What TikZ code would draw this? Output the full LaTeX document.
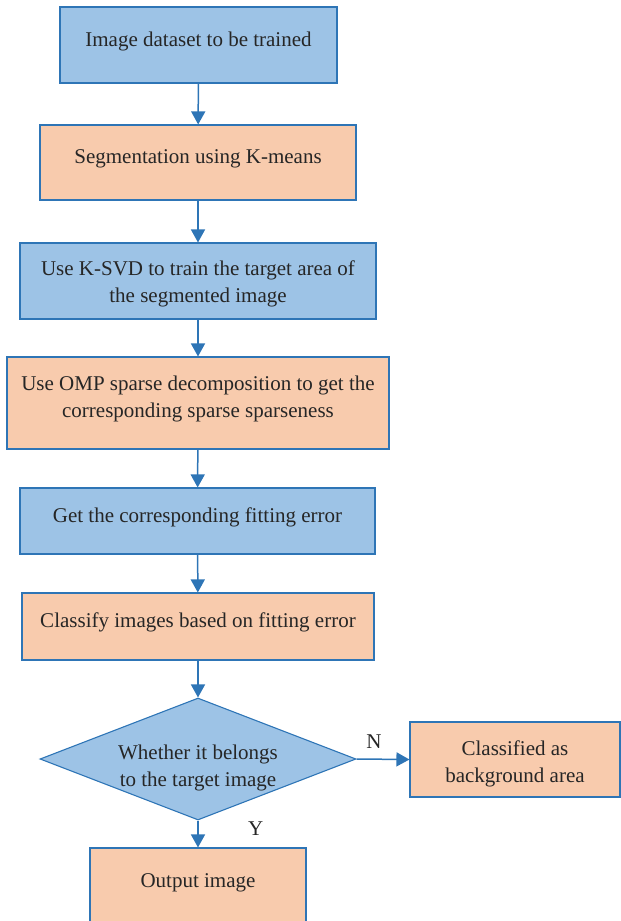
\documentclass[tikz,border=0pt]{standalone}
\usepackage{fontspec}
\setmainfont{Liberation Serif}
\usetikzlibrary{shapes.geometric, arrows.meta}
\definecolor{boxblue}{HTML}{9DC3E6}
\definecolor{boxorange}{HTML}{F8CBAD}
\definecolor{edgeblue}{HTML}{2E75B6}

\begin{document}
\begin{tikzpicture}[x=1pt, y=-1pt,
    >={Triangle[width=14pt, length=13pt]},
    every node/.style={font=\fontsize{21}{27}\selectfont, text=black!85, align=center},
    bluebox/.style={draw=edgeblue, line width=1.1pt, fill=boxblue, inner sep=0pt},
    orangebox/.style={draw=edgeblue, line width=1.1pt, fill=boxorange, inner sep=0pt},
    flow/.style={->, draw=edgeblue, line width=1.5pt}]
    \useasboundingbox (0, 0) rectangle (621, 921);
    \node[bluebox, minimum width=277pt, minimum height=76pt, text depth=12pt] (data) at (198.5, 45) {Image dataset to be trained};
    \node[orangebox, minimum width=316pt, minimum height=75pt, text depth=12pt] (kmeans) at (198, 162.5) {Segmentation using K-means};
    \node[bluebox, minimum width=356pt, minimum height=76pt, text height=47.3pt] (ksvd) at (198, 281) {Use K-SVD to train the target area of\\the segmented image};
    \node[orangebox, minimum width=382pt, minimum height=92pt, text depth=12.5pt] (omp) at (198, 403) {Use OMP sparse decomposition to get the\\corresponding sparse sparseness};
    \node[bluebox, minimum width=355pt, minimum height=66pt, text depth=12pt] (fit) at (197.5, 521) {Get the corresponding fitting error};
    \node[orangebox, minimum width=352pt, minimum height=67pt, text depth=12pt] (classify) at (198, 626.5) {Classify images based on fitting error};
    \node[bluebox, diamond, minimum width=316pt, minimum height=122pt] (check) at (198, 759) {};
    \node (checktext) at ([yshift=-9pt]check.center) {Whether it belongs\\to the target image};
    \node[orangebox, minimum width=210pt, minimum height=75pt, text height=51.3pt] (back) at (515, 759.5) {Classified as\\background area};
    \node[orangebox, minimum width=216pt, minimum height=78pt, text depth=12pt] (out) at (198, 887) {Output image};

    \draw[flow] (data) -- (kmeans);
    \draw[flow] (kmeans) -- (ksvd);
    \draw[flow] (ksvd) -- (omp);
    \draw[flow] (omp) -- (fit);
    \draw[flow] (fit) -- (classify);
    \draw[flow] (classify) -- (check);
    \draw[flow] (check.east) -- (back.west) node[pos=0.33, above=7pt] {N};
    \draw[flow] (check.south) -- (out.north) node[pos=0.3, right=46pt] {Y};
\end{tikzpicture}
\end{document}
